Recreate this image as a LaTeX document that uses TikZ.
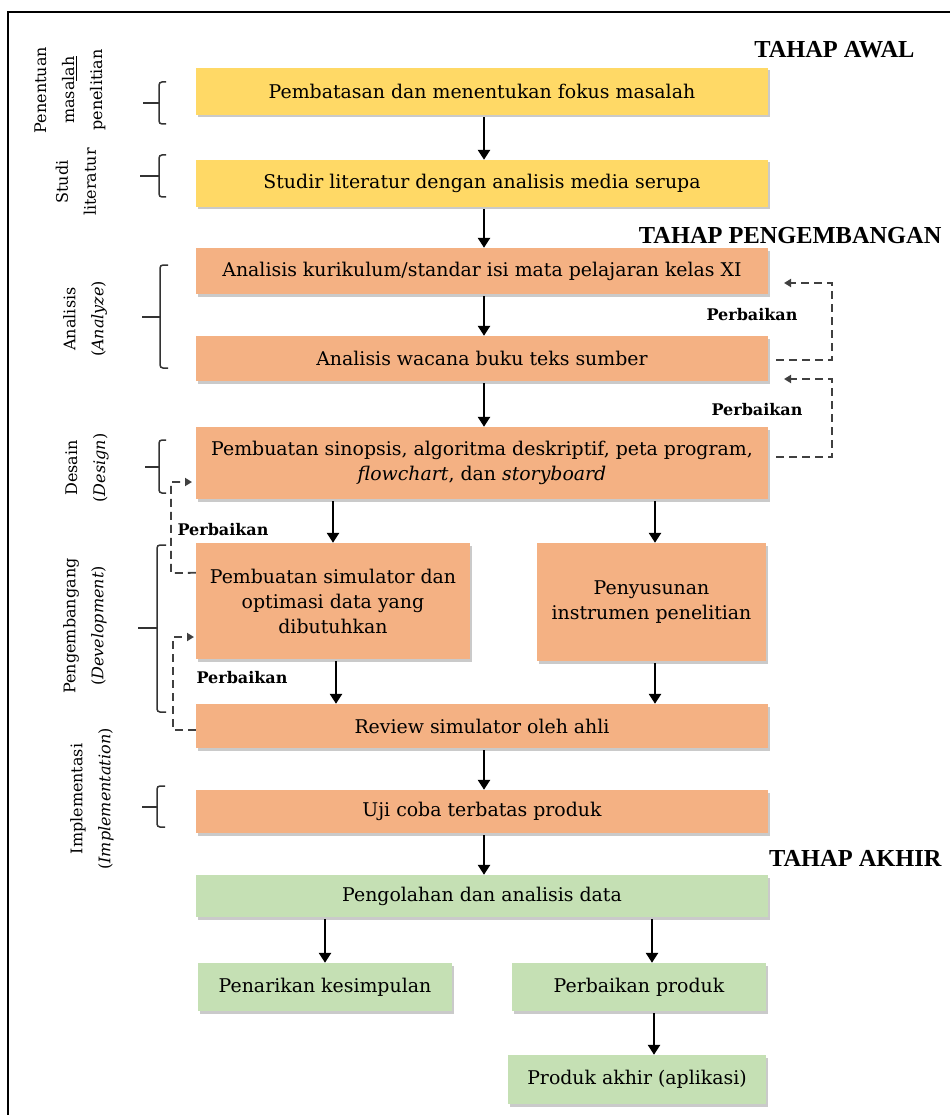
\documentclass[tikz,border=0pt]{standalone}
\usepackage{fontspec}
\setmainfont{DejaVu Serif}
\newfontfamily\headfont{Liberation Serif}
\usetikzlibrary{arrows.meta,shadows,calc}
\definecolor{boxY}{HTML}{FFD966}
\definecolor{boxO}{HTML}{F4B183}
\definecolor{boxG}{HTML}{C5E0B4}
\begin{document}
\begin{tikzpicture}[x=1pt,y=-1pt,
  box/.style={draw=none, inner sep=2pt, align=center,
    font=\fontsize{18.9}{25}\selectfont,
    drop shadow={shadow xshift=2pt,shadow yshift=-2.5pt,opacity=0.35,fill=black!60}},
  ylw/.style={box,fill=boxY},
  org/.style={box,fill=boxO},
  grn/.style={box,fill=boxG},
  arr/.style={line width=2.8pt,-{Triangle[width=12pt,length=10pt]},shorten <=2pt},
  dsh/.style={line width=1.8pt,black!75,dash pattern=on 8pt off 5pt,-{Triangle[width=8pt,length=7pt]}},
  fix/.style={font=\fontsize{16}{18}\selectfont\bfseries},
  head/.style={font=\headfont\fontsize{24.4}{27}\selectfont\bfseries, anchor=east},
  lab/.style={rotate=90, align=center, font=\fontsize{16}{28}\selectfont},
  brk/.style={line width=1.5pt, black!80}
]
\useasboundingbox (0,0) rectangle (950,1115);
\draw[line width=2pt] (8,1115) -- (8,12) -- (950,12);

% headings
\node[head] (h1) at (918,50) {TAHAP AWAL};
\node[head] (h2) at (945,236) {TAHAP PENGEMBANGAN};
\node[head] (h3) at (945,858) {TAHAP AKHIR};

% boxes
\node[ylw, minimum width=572, minimum height=47] (b1) at (482,91.5) {Pembatasan dan menentukan fokus masalah};
\node[ylw, minimum width=572, minimum height=47] (b2) at (482,183.5) {Studir literatur dengan analisis media serupa};
\node[org, minimum width=572, minimum height=46] (b3) at (482,271) {Analisis kurikulum/standar isi mata pelajaran kelas XI};
\node[org, minimum width=572, minimum height=45] (b4) at (482,358.5) {Analisis wacana buku teks sumber};
\node[org, minimum width=572, minimum height=72] (b5) at (482,463) {Pembuatan sinopsis, algoritma deskriptif, peta program,\\\textit{flowchart}, dan \textit{storyboard}};
\node[org, minimum width=274, minimum height=116] (b6) at (333,601) {Pembuatan simulator dan\\optimasi data yang\\dibutuhkan};
\node[org, minimum width=229, minimum height=118] (b7) at (651.5,602) {Penyusunan\\instrumen penelitian};
\node[org, minimum width=572, minimum height=44] (b8) at (482,726) {Review simulator oleh ahli};
\node[org, minimum width=572, minimum height=43] (b9) at (482,811.5) {Uji coba terbatas produk};
\node[grn, minimum width=572, minimum height=42] (b10) at (482,896) {Pengolahan dan analisis data};
\node[grn, minimum width=254, minimum height=48] (b11) at (325,987) {Penarikan kesimpulan};
\node[grn, minimum width=254, minimum height=48] (b12) at (639,987) {Perbaikan produk};
\node[grn, minimum width=258, minimum height=49] (b13) at (637,1079.5) {Produk akhir (aplikasi)};

% solid arrows
\coordinate (t2) at ($(b2.north)+(2,0)$);
\draw[arr] (b1.south -| t2) -- (t2);
\draw[arr] (b2.south -| t2) -- (b3.north -| t2);
\draw[arr] (b3.south -| t2) -- (b4.north -| t2);
\draw[arr] (b4.south -| t2) -- (b5.north -| t2);
\draw[arr] (b5.south -| b6.north) -- (b6.north);
\coordinate (t7) at ($(b7.north)+(3.5,0)$);
\draw[arr] (b5.south -| t7) -- (t7);
\coordinate (t8a) at ($(b6.south)+(3,0)$);
\draw[arr] (t8a) -- (b8.north -| t8a);
\draw[arr] (b7.south -| t7) -- (b8.north -| t7);
\draw[arr] (b8.south -| t2) -- (b9.north -| t2);
\draw[arr] (b9.south -| t2) -- (b10.north -| t2);
\draw[arr] (b10.south -| b11.north) -- (b11.north);
\coordinate (t12) at ($(b12.north)+(13,0)$);
\draw[arr] (b10.south -| t12) -- (t12);
\coordinate (t13) at ($(b13.north)+(17,0)$);
\draw[arr] (b12.south -| t13) -- (t13);

% dashed feedback
\coordinate (r1) at (784,283);
\draw[dsh] ($(b4.east)+(8,1.5)$) -- (832,360) -- (832,283) -- (r1);
\coordinate (r2) at (784,379);
\draw[dsh] ($(b5.east)+(8,-6)$) -- (832,457) -- (832,379) -- (r2);
\coordinate (l1) at (192,482);
\draw[dsh] ($(b6.north west)+(0,30)$) -- (171,573) -- (171,482) -- (l1);
\coordinate (l2) at (194,637);
\draw[dsh] ($(b8.west)+(0,4)$) -- (173,730) -- (173,637) -- (l2);

\node[fix] (p1) at (752,315) {Perbaikan};
\node[fix] (p2) at (757,410) {Perbaikan};
\node[fix] (p3) at (223,530) {Perbaikan};
\node[fix] (p4) at (242,678) {Perbaikan};

% brackets
\draw[brk, rounded corners=3pt] (166,82) -- (159,82) -- (159,124) -- (166,124);
\draw[brk] (143,103) -- (159,103);
\draw[brk, rounded corners=3pt] (166,155) -- (159,155) -- (159,197) -- (166,197);
\draw[brk] (140,176) -- (159,176);
\draw[brk, rounded corners=3pt] (168,265) -- (160,265) -- (160,368) -- (168,368);
\draw[brk] (142,317) -- (160,317);
\draw[brk, rounded corners=3pt] (166,440) -- (159,440) -- (159,493) -- (166,493);
\draw[brk] (145,467) -- (159,467);
\draw[brk, rounded corners=3pt] (166,545) -- (157,545) -- (157,712) -- (166,712);
\draw[brk] (138,628) -- (157,628);
\draw[brk, rounded corners=3pt] (165,786) -- (157,786) -- (157,827) -- (165,827);
\draw[brk] (142,807) -- (157,807);

% side labels
\node[lab] (s1) at (70,90) {Penentuan\\masa\underline{lah}\\penelitian};
\node[lab] (s2) at (76,182) {Studi\\literatur};
\node[lab] (s3) at (85,319) {Analisis\\(\textit{Analyze})};
\node[lab] (s4) at (87,468) {Desain\\(\textit{Design})};
\node[lab] (s5) at (85,626) {Pengembangang\\(\textit{Development})};
\node[lab] (s6) at (92,799) {Implementasi\\(\textit{Implementation})};
\end{tikzpicture}
\end{document}
